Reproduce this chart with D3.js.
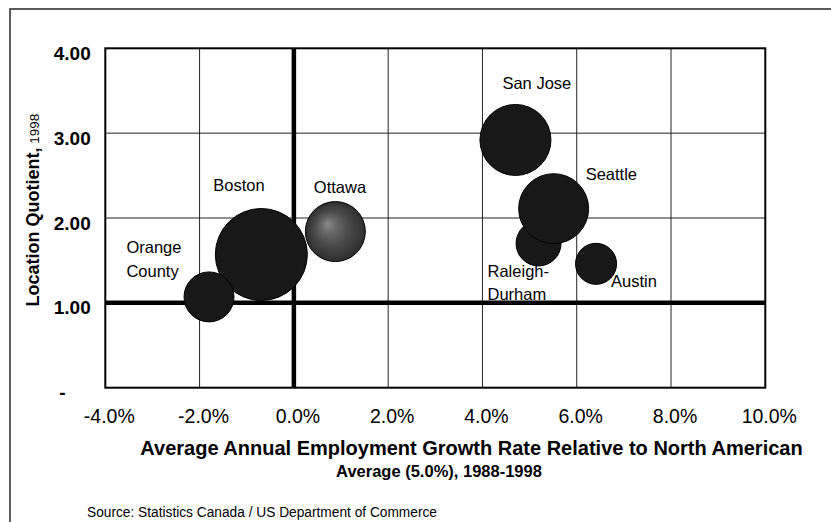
<!DOCTYPE html>
<html>
<head>
<meta charset="utf-8">
<script src="https://cdn.jsdelivr.net/npm/d3@7"></script>
<style>
  html, body { margin: 0; padding: 0; background: #fff; }
  svg { display: block; font-family: "Liberation Sans", Arial, sans-serif; }
</style>
</head>
<body>
<svg id="chart" width="831" height="522"></svg>
<script>
// Metro areas: employment growth vs. location quotient, bubble = relative size
// (listed in drawing order, later ones sit on top)
const cities = ["Boston", "Orange County", "Ottawa", "San Jose", "Raleigh-Durham", "Seattle", "Austin"];
const growth = [-0.69, -1.80, 0.88, 4.70, 5.19, 5.51, 6.41];   // % relative to N.A. average
const quotient = [1.57, 1.07, 1.84, 2.92, 1.70, 2.11, 1.46];   // location quotient, 1998
const bubbleSize = [100, 29.5, 42.5, 59.6, 23.9, 57.9, 19.9];  // relative cluster size

const xTicks = [-4, -2, 0, 2, 4, 6, 8, 10];
const xTickLabels = ["-4.0%", "-2.0%", "0.0%", "2.0%", "4.0%", "6.0%", "8.0%", "10.0%"];
const yTicks = [0, 1, 2, 3, 4];
const yTickLabels = ["-", "1.00", "2.00", "3.00", "4.00"];

const svg = d3.select("#chart");

// outer frame (runs off the right and bottom edges)
svg.append("rect")
  .attr("x", 10).attr("y", 9).attr("width", 900).attr("height", 600)
  .attr("fill", "none").attr("stroke", "#333").attr("stroke-width", 1.6);

const plotL = 105.3, plotR = 765.3, plotT = 48.3, plotB = 387.7;
const x = d3.scaleLinear().domain([-4, 10]).range([plotL, plotR]);
const y = d3.scaleLinear().domain([0, 4]).range([plotB, plotT]);
const r = d3.scaleSqrt().domain([0, d3.max(bubbleSize)]).range([0, 46]);

// gridlines
const grid = svg.append("g").attr("stroke", "#222").attr("stroke-width", 1);
grid.selectAll("line.v").data(xTicks.slice(1, -1)).join("line").attr("class", "v")
  .attr("x1", d => x(d)).attr("x2", d => x(d)).attr("y1", plotT).attr("y2", plotB);
grid.selectAll("line.h").data(yTicks.slice(1, -1)).join("line").attr("class", "h")
  .attr("x1", plotL).attr("x2", plotR).attr("y1", d => y(d)).attr("y2", d => y(d));

// city labels (drawn beneath the reference lines)
const labelLayout = {
  "Orange County": { dx: -82.6, dy: -43.7, lines: ["Orange", "County"], lh: 24 },
  "Boston": { dx: -48, dy: -63, lines: ["Boston"] },
  "Ottawa": { dx: -21.5, dy: -38.5, lines: ["Ottawa"] },
  "San Jose": { dx: -13, dy: -51, lines: ["San Jose"] },
  "Seattle": { dx: 32, dy: -29, lines: ["Seattle"] },
  "Raleigh-Durham": { dx: -51, dy: 33.5, lines: ["Raleigh-", "Durham"], lh: 23 },
  "Austin": { dx: 15, dy: 23, lines: ["Austin"] }
};
const pts = cities.map((c, i) => ({ city: c, gx: growth[i], q: quotient[i], s: bubbleSize[i] }));

const labels = svg.append("g").attr("font-size", 16.5).attr("fill", "#000");
pts.forEach(p => {
  const L = labelLayout[p.city];
  const t = labels.append("text")
    .attr("x", x(p.gx) + L.dx).attr("y", y(p.q) + L.dy);
  L.lines.forEach((ln, k) => {
    t.append("tspan").attr("x", x(p.gx) + L.dx).attr("dy", k === 0 ? 0 : L.lh).text(ln);
  });
});

// heavy reference lines at 0% growth and LQ = 1.00
svg.append("line")
  .attr("x1", x(0)).attr("x2", x(0)).attr("y1", plotT).attr("y2", plotB)
  .attr("stroke", "#000").attr("stroke-width", 4.5);
svg.append("line")
  .attr("x1", plotL).attr("x2", plotR).attr("y1", y(1)).attr("y2", y(1))
  .attr("stroke", "#000").attr("stroke-width", 4.5);

// plot border
svg.append("rect")
  .attr("x", plotL).attr("y", plotT).attr("width", plotR - plotL).attr("height", plotB - plotT)
  .attr("fill", "none").attr("stroke", "#000").attr("stroke-width", 2);

// bubbles
const defs = svg.append("defs");
const rg = defs.append("radialGradient").attr("id", "ottawaShade")
  .attr("cx", 0.5).attr("cy", 0.5).attr("r", 0.5).attr("fx", 0.36).attr("fy", 0.37);
rg.append("stop").attr("offset", "0%").attr("stop-color", "#8a8a8a");
rg.append("stop").attr("offset", "25%").attr("stop-color", "#686868");
rg.append("stop").attr("offset", "60%").attr("stop-color", "#484848");
rg.append("stop").attr("offset", "100%").attr("stop-color", "#2e2e2e");

svg.append("g").selectAll("circle").data(pts).join("circle")
  .attr("cx", d => x(d.gx)).attr("cy", d => y(d.q)).attr("r", d => r(d.s))
  .attr("fill", d => d.city === "Ottawa" ? "url(#ottawaShade)" : "#181818")
  .attr("stroke", "#000").attr("stroke-width", 1);

// x axis tick labels
const xAxis = svg.append("g").attr("transform", `translate(3.5,${plotB})`)
  .call(d3.axisBottom(x).tickValues(xTicks).tickFormat((d, i) => xTickLabels[i]).tickSize(0));
xAxis.select(".domain").remove();
xAxis.selectAll("text").attr("dy", null).attr("y", 35.5)
  .attr("font-size", 19.5).attr("font-family", "Liberation Sans, Arial, sans-serif").attr("fill", "#000");

// y axis tick labels
const yAxis = svg.append("g").attr("transform", "translate(90.7,0)")
  .call(d3.axisLeft(y).tickValues(yTicks).tickFormat((d, i) => yTickLabels[i]).tickSize(0).tickPadding(0));
yAxis.select(".domain").remove();
yAxis.selectAll("text").attr("dy", null).attr("y", 11)
  .attr("font-size", 19).attr("font-weight", "bold")
  .attr("font-family", "Liberation Sans, Arial, sans-serif").attr("fill", "#000")
  .attr("x", (d, i) => yTickLabels[i] === "-" ? -25 : 0);

// axis titles
svg.append("text").attr("x", 471.5).attr("y", 455).attr("text-anchor", "middle")
  .attr("font-size", 20).attr("font-weight", "bold")
  .text("Average Annual Employment Growth Rate Relative to North American");
svg.append("text").attr("x", 439).attr("y", 476.5).attr("text-anchor", "middle")
  .attr("font-size", 16.5).attr("font-weight", "bold")
  .text("Average (5.0%), 1988-1998");

const yTitle = svg.append("text")
  .attr("transform", "translate(39,210) rotate(-90)").attr("text-anchor", "middle");
yTitle.append("tspan").attr("font-size", 18).attr("font-weight", "bold").text("Location Quotient,");
yTitle.append("tspan").attr("font-size", 13.5).text(" 1998");

// source note
svg.append("text").attr("x", 87).attr("y", 516.5)
  .attr("font-size", 14).attr("textLength", 350).attr("lengthAdjust", "spacingAndGlyphs")
  .text("Source:  Statistics Canada / US Department of Commerce");
</script>
</body>
</html>
